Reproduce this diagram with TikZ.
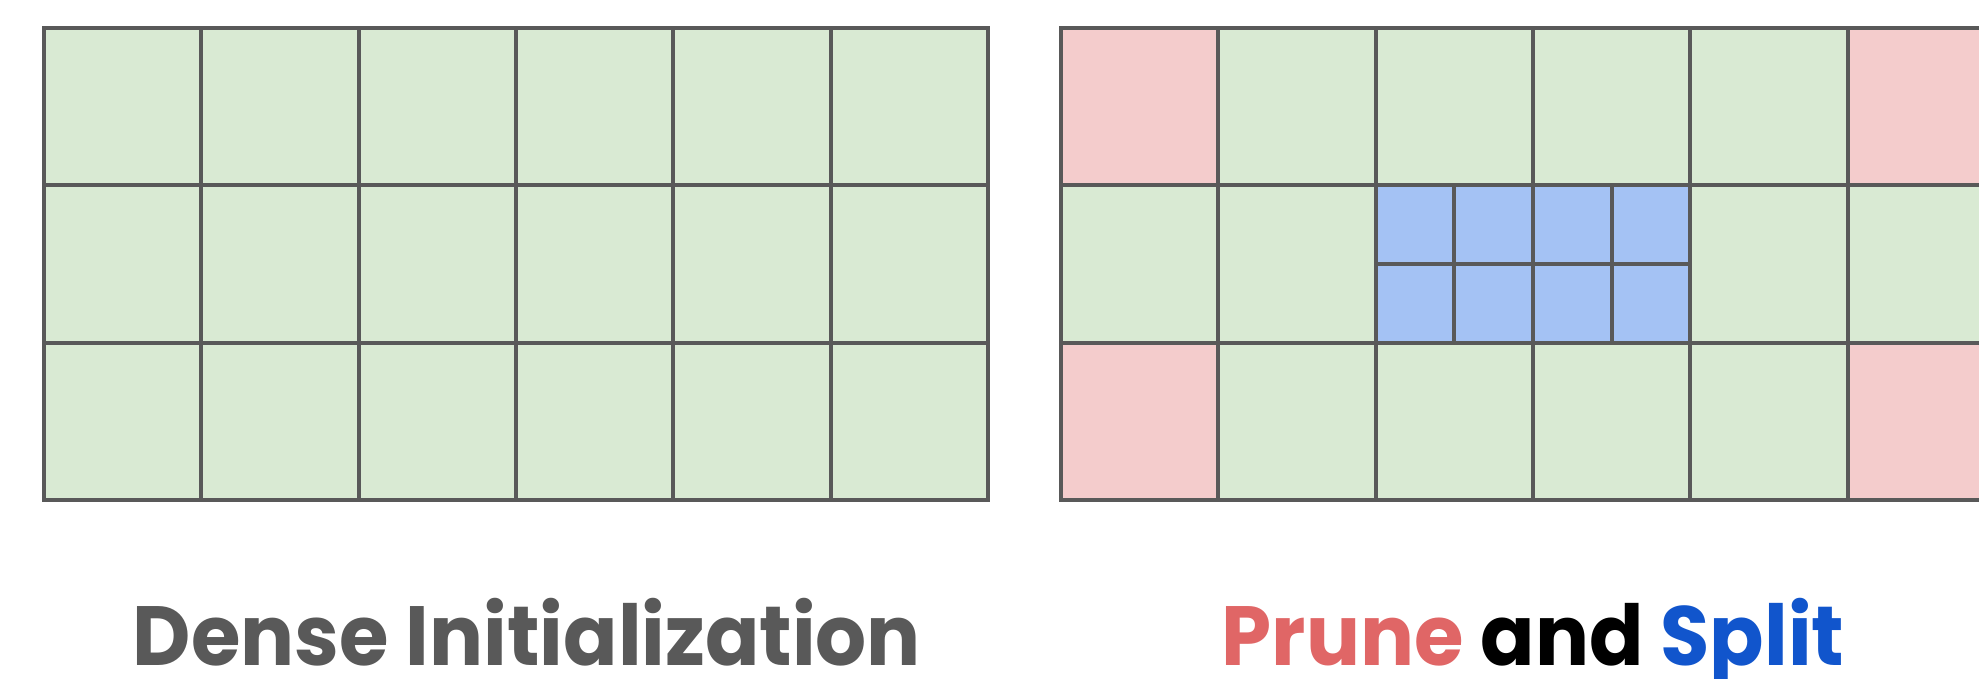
\documentclass[tikz,border=0pt]{standalone}
\usepackage{fontspec}
\setmainfont{Poppins}
\definecolor{gfill}{HTML}{D9EAD3}
\definecolor{rfill}{HTML}{F4CCCC}
\definecolor{bfill}{HTML}{A4C2F4}
\definecolor{strk}{HTML}{595959}
\definecolor{pred}{HTML}{E06666}
\definecolor{sblue}{HTML}{1155CC}
\tikzset{
  gl/.style={draw=strk, line width=1.9pt, line cap=rect},
  title/.style={font=\fontsize{42}{50}\selectfont\bfseries, anchor=base, inner sep=0pt}
}
\newcommand{\squeeze}[1]{\scalebox{0.955}[1]{#1}}
\begin{document}
\begin{tikzpicture}[x=0.5pt,y=-0.5pt]
\useasboundingbox (0,0) rectangle (1979,679);
\clip (0,0) rectangle (1979,679);
\def\s{157.33}
% ---- left grid ----
\def\lx{44}\def\ty{28}
\fill[gfill] (\lx,\ty) rectangle ++(6*\s,3*\s);
\foreach \i in {0,...,6} \draw[gl] (\lx+\i*\s,\ty) -- (\lx+\i*\s,\ty+3*\s);
\foreach \j in {0,...,3} \draw[gl] (\lx,\ty+\j*\s) -- (\lx+6*\s,\ty+\j*\s);
% ---- right grid ----
\def\rx{1061}
\fill[gfill] (\rx,\ty) rectangle ++(6*\s,3*\s);
\foreach \c/\r in {0/0,5/0,0/2,5/2}
  \fill[rfill] (\rx+\c*\s,\ty+\r*\s) rectangle ++(\s,\s);
\fill[bfill] (\rx+2*\s,\ty+\s) rectangle ++(2*\s,\s);
\foreach \i in {0,...,6} \draw[gl] (\rx+\i*\s,\ty) -- (\rx+\i*\s,\ty+3*\s);
\foreach \j in {0,...,3} \draw[gl] (\rx,\ty+\j*\s) -- (\rx+6*\s,\ty+\j*\s);
\foreach \k in {2.5,3.5} \draw[gl] (\rx+\k*\s,\ty+\s) -- (\rx+\k*\s,\ty+2*\s);
\draw[gl] (\rx+2*\s,\ty+1.5*\s) -- (\rx+4*\s,\ty+1.5*\s);
% ---- titles ----
\node[title, text=strk] (t1) at (527,665) {\squeeze{Dense Initialization}};
\node[title] (t2) at (1533,665) {\squeeze{\textcolor{pred}{Prune} and \textcolor{sblue}{Split}}};
\end{tikzpicture}
\end{document}
